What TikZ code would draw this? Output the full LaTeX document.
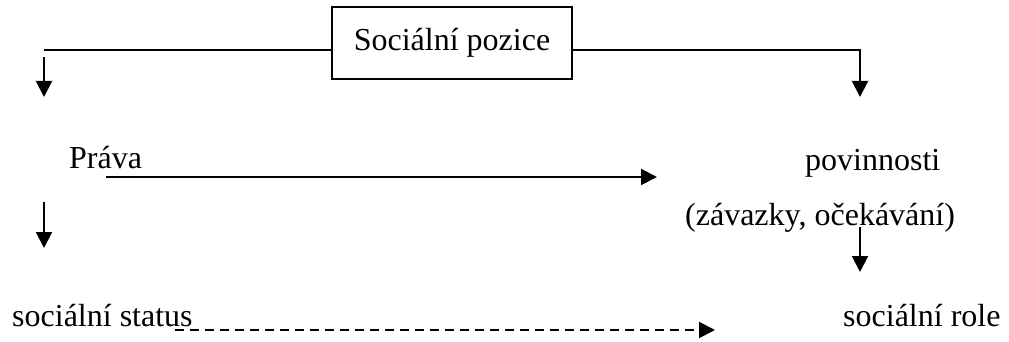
\documentclass[tikz,border=0pt]{standalone}
\usepackage{fontspec}
\setmainfont{Liberation Serif}
\usetikzlibrary{arrows.meta}
\usetikzlibrary{positioning}
\tikzstyle{block} = [draw, rectangle, line width=1.5pt, minimum width=240pt, minimum height=72pt, inner sep=0pt, font=\fontsize{32}{38}\selectfont]
\tikzstyle{word} = [inner sep=0pt, anchor=base west, font=\fontsize{32}{38}\selectfont]
\tikzstyle{line} = [line width=2pt]
\tikzstyle{arrow} = [line width=2pt, -{Triangle[length=16pt,width=16pt]}]

\begin{document}
\begin{tikzpicture}[x=1pt,y=-1pt]
\useasboundingbox (0,0) rectangle (1009,342);

% social position
\node[block] (pozice) at (452,43) {Sociální pozice};
\coordinate (lefttop) at (44,50);
\coordinate (righttop) at (860,50);
\coordinate (rightdown) at (860,97);
\coordinate (leftstart) at (44,57);
\coordinate (leftdown) at (44,97);

% rights and duties
\node[word] (prava) at (69,168) {Práva};
\node[word] (povinnosti) at (805,170) {povinnosti};
\node[word] (zavazky) at (685,225) {(závazky, očekávání)};
\coordinate (pravafrom) at (106,177);
\coordinate (pravato) at (657,177);
\coordinate (leftstart2) at (44,202);
\coordinate (leftdown2) at (44,248);
\coordinate (rightstart2) at (860,227);
\coordinate (rightdown2) at (860,272);

% status and role
\node[word] (status) at (12,326) {sociální status};
\node[word] (role) at (843,326) {sociální role};
\coordinate (statusfrom) at (175,330);
\coordinate (statusto) at (715,330);

% Connect all nodes defined above
\draw[line] (lefttop) -- (pozice.west |- lefttop);
\draw[arrow] (pozice.east |- righttop) -- (righttop) -- (rightdown);
\draw[arrow] (leftstart) -- (leftdown);
\draw[arrow] (pravafrom) -- (pravato);
\draw[arrow] (leftstart2) -- (leftdown2);
\draw[arrow] (rightstart2) -- (rightdown2);
\draw[arrow, dash pattern=on 9pt off 6pt] (statusfrom) -- (statusto);

\end{tikzpicture}
\end{document}
